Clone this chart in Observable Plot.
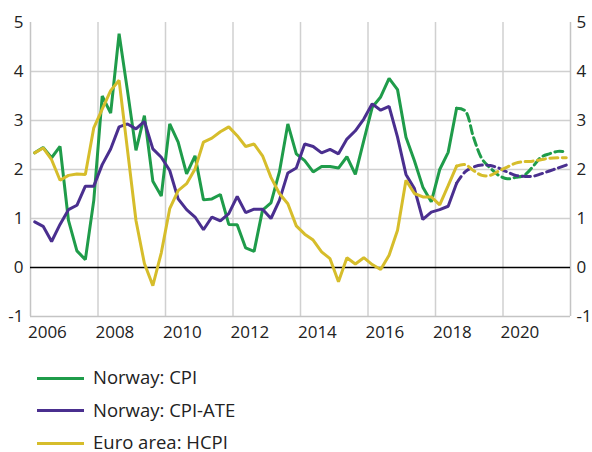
<!DOCTYPE html>
<html><head><meta charset="utf-8">
<script src="https://cdn.jsdelivr.net/npm/d3@7"></script>
<script src="https://cdn.jsdelivr.net/npm/@observablehq/plot@0.6"></script>
<style>
html,body{margin:0;padding:0;background:#fff;overflow:hidden;}
body{font-family:"Open Sans",sans-serif;color:#222;width:592px;height:452px;}
#legend{padding-top:16px;}
.row{height:32.5px;line-height:32.5px;font-size:18.5px;white-space:nowrap;}
.sw{display:inline-block;width:47px;height:3px;margin-left:37px;margin-right:9px;vertical-align:middle;position:relative;top:-1px;}
</style></head><body><div id="chart"></div><div id="legend"></div>
<script>
// Quarterly series, 2006Q1 .. 2021Q4 (index 0..63); index 50 = 2018Q3 is last outcome, later values are projections
const startYear = 2006;
const lastActual = 50;
const seriesNames = ["Norway: CPI", "Norway: CPI-ATE", "Euro area: HCPI"];
const seriesColors = ["#1f9c4a", "#4a2f8f", "#d6bd2b"];
const cpi = [2.34,2.45,2.24,2.47,0.96,0.34,0.16,1.37,3.5,3.15,4.77,3.6,2.39,3.1,1.76,1.46,
  2.93,2.56,1.91,2.28,1.38,1.40,1.49,0.88,0.87,0.40,0.33,1.17,1.32,1.95,2.93,2.32,
  2.18,1.95,2.06,2.06,2.03,2.26,1.90,2.59,3.27,3.48,3.86,3.63,2.66,2.18,1.64,1.34,
  2.0,2.35,3.25,3.2,2.66,2.22,2.03,1.88,1.81,1.84,1.88,2.05,2.25,2.32,2.37,2.36];
const cpiAte = [0.93,0.84,0.53,0.88,1.18,1.27,1.66,1.66,2.10,2.42,2.87,2.93,2.83,2.98,2.42,2.25,
  1.98,1.40,1.18,1.03,0.77,1.03,0.95,1.10,1.45,1.12,1.19,1.19,1.00,1.37,1.93,2.03,
  2.52,2.47,2.34,2.41,2.32,2.62,2.79,3.03,3.34,3.21,3.29,2.66,1.90,1.61,0.98,1.13,
  1.18,1.25,1.72,1.95,2.05,2.09,2.08,2.03,1.95,1.88,1.86,1.86,1.91,1.97,2.03,2.09];
const hicp = [2.34,2.44,2.20,1.78,1.88,1.91,1.90,2.85,3.23,3.61,3.82,2.39,0.96,0.08,-0.37,0.3,
  1.20,1.57,1.71,2.01,2.56,2.64,2.77,2.87,2.69,2.47,2.52,2.28,1.84,1.51,1.30,0.85,
  0.68,0.56,0.32,0.18,-0.29,0.20,0.07,0.20,0.06,-0.04,0.25,0.76,1.78,1.51,1.44,1.44,
  1.28,1.67,2.07,2.10,1.98,1.88,1.88,1.97,2.05,2.13,2.16,2.17,2.20,2.23,2.24,2.24];
const yTicks = [-1,0,1,2,3,4,5];
const xTickYears = [2006,2008,2010,2012,2014,2016,2018,2020];
const gridYears = [2008,2010,2012,2014,2016,2018,2020];

const allSeries = [cpi, cpiAte, hicp];
const rows = [];
allSeries.forEach((vals, s) => {
  vals.forEach((v, i) => {
    const t = startYear + (i + 0.5) / 4;
    if (i <= lastActual) rows.push({series: seriesNames[s], t, v, kind: "actual"});
    if (i >= lastActual) rows.push({series: seriesNames[s], t, v, kind: "forecast"});
  });
});
const actual = rows.filter(d => d.kind === "actual");
const forecast = rows.filter(d => d.kind === "forecast");
const color = {domain: seriesNames, range: seriesColors};

const chart = Plot.plot({
  width: 592, height: 345,
  marginTop: 22, marginBottom: 29, marginLeft: 30, marginRight: 22,
  style: {fontFamily: "Open Sans, sans-serif", fontSize: "17px", color: "#222", background: "#fff"},
  x: {type: "linear", domain: [2006, 2022]},
  y: {domain: [-1, 5]},
  color,
  marks: [
    Plot.ruleX(gridYears, {y1: -1, y2: 5, stroke: "#d0d0d0", strokeWidth: 1.5}),
    Plot.ruleY([1, 2, 3, 4], {stroke: "#d0d0d0", strokeWidth: 1.5}),
    Plot.ruleX([2006, 2022], {y1: -1, y2: 5, stroke: "#c4c4c4", strokeWidth: 1.5}),
    Plot.ruleY([-1], {stroke: "#c4c4c4", strokeWidth: 1.5}),
    Plot.ruleY([0], {stroke: "#000", strokeWidth: 1.3}),
    Plot.line(actual, {x: "t", y: "v", z: "series", stroke: "series", strokeWidth: 3, strokeLinejoin: "miter"}),
    Plot.line(forecast, {x: "t", y: "v", z: "series", stroke: "series", strokeWidth: 3, strokeDasharray: "8,4.5", curve: "catmull-rom"}),
    Plot.axisY(yTicks, {anchor: "left", tickSize: 0, tickPadding: 7, label: null, tickFormat: d => String(d).replace("−", "-")}),
    Plot.axisY(yTicks, {anchor: "right", tickSize: 0, tickPadding: 6, label: null, tickFormat: d => String(d)}),
    Plot.axisX(xTickYears.map(y => y + 0.5), {anchor: "bottom", tickSize: 0, tickPadding: 9, label: null, tickFormat: d => String(Math.floor(d))})
  ]
});
document.getElementById("chart").appendChild(chart);

const legend = document.getElementById("legend");
seriesNames.forEach((name, i) => {
  const row = document.createElement("div");
  row.className = "row";
  const sw = document.createElement("span");
  sw.className = "sw";
  sw.style.background = seriesColors[i];
  row.appendChild(sw);
  row.appendChild(document.createTextNode(name));
  legend.appendChild(row);
});
</script></body></html>
